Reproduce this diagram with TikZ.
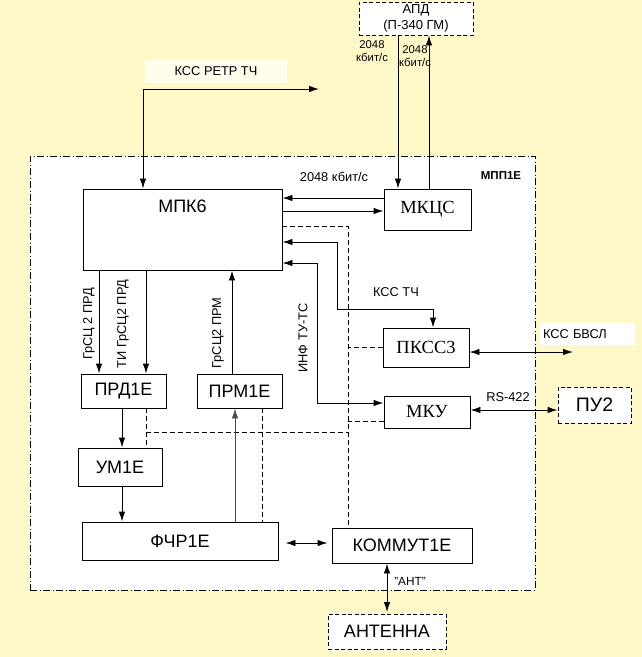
\documentclass[tikz,border=0pt]{standalone}
\usepackage{fontspec}
\setmainfont{Liberation Sans}
\newfontfamily\serifru{Liberation Serif}
\usetikzlibrary{arrows.meta}
\definecolor{bgyellow}{RGB}{255,249,202}
\definecolor{lblbox}{RGB}{255,253,236}
\tikzset{
  ln/.style={line width=0.95pt, draw=black},
  arr/.style={ln, -{Latex[length=10pt,width=6.5pt]}},
  arrtwo/.style={ln, {Latex[length=10pt,width=6.5pt]}-{Latex[length=10pt,width=6.5pt]}},
  dsh/.style={ln, dash pattern=on 5pt off 3pt},
  blk/.style={draw, line width=0.95pt, fill=white, inner sep=0pt, font=\fontsize{18}{20}\selectfont},
  sblk/.style={blk, font=\serifru\fontsize{18.5}{20}\selectfont},
  extblk/.style={draw, line width=0.95pt, fill=white, inner sep=0pt, dash pattern=on 4pt off 2.5pt},
  lbl/.style={inner sep=0pt, font=\fontsize{12.8}{14}\selectfont},
  slbl/.style={inner sep=0pt, font=\fontsize{11.3}{13}\selectfont, align=center},
}
\begin{document}
\begin{tikzpicture}[x=1pt,y=-1pt]
\useasboundingbox (0,0) rectangle (642,657);
\fill[bgyellow] (0,0) rectangle (642,657);
% outer module
\node[draw, line width=0.95pt, fill=white, dash pattern=on 7pt off 2.5pt on 1pt off 2.5pt,
      minimum width=505, minimum height=434, inner sep=0pt] (mpp) at (282.5,373) {};
\node[inner sep=0pt, font=\bfseries\fontsize{11.5}{13}\selectfont] (mppt) at (501,176) {МПП1Е};

% blocks
\node[blk, minimum width=199, minimum height=81] (mpk) at (182.5,229.5) {};
\node[inner sep=0pt, font=\fontsize{18}{20}\selectfont] (mpkt) at (182.5,206) {МПК6};
\node[sblk, minimum width=87, minimum height=41] (mkcs) at (427.5,209.5) {МКЦС};
\node[sblk, minimum width=86, minimum height=39] (pkss) at (426,347.5) {ПКСС3};
\node[sblk, minimum width=86, minimum height=32] (mku) at (427,412) {МКУ};
\node[blk, minimum width=85, minimum height=34] (prd) at (123.5,391) {ПРД1Е};
\node[blk, minimum width=85, minimum height=34] (prm) at (239.5,391) {ПРМ1Е};
\node[blk, minimum width=84, minimum height=38] (um) at (120,467) {УМ1Е};
\node[blk, minimum width=196, minimum height=38] (fchr) at (180,541) {ФЧР1Е};
\node[blk, minimum width=140, minimum height=35] (komm) at (402,545.5) {КОММУТ1Е};

% external blocks
\node[extblk, minimum width=114, minimum height=33, align=center,
      font=\fontsize{13}{16}\selectfont] (apd) at (416,18.5) {АПД\\(П-340 ГМ)};
\node[extblk, minimum width=73, minimum height=36, font=\fontsize{19.5}{21}\selectfont] (pu) at (594.5,405) {ПУ2};
\node[extblk, minimum width=118, minimum height=35, font=\fontsize{18}{20}\selectfont] (ant) at (387,631.5) {АНТЕННА};

% label boxes
\node[lbl, fill=lblbox, minimum width=142, minimum height=23] (kssr) at (216,71.5) {КСС РЕТР ТЧ};
\node[lbl, fill=white, minimum width=95, minimum height=22, text width=89pt, inner xsep=3pt, align=left] (kssb) at (587.5,334) {КСС БВСЛ};

% free-end coordinates
\coordinate (kssrc) at (143,89);
\coordinate (kssrend) at (319,89);
\coordinate (kt) at (337,309);
\coordinate (it) at (317,403);
\coordinate (kssbend) at (573,352);
\coordinate (dj) at (348,432);

% КСС РЕТР ТЧ
\draw[arr] (kssrc) -- (kssrend);
\draw[arr] (kssrc) -- (kssrc |- mpk.north);

% АПД <-> МКЦС
\draw[arr] ([xshift=-18pt]apd.south) -- ([xshift=-18pt]apd.south |- mkcs.north);
\draw[arr] ([xshift=13pt]apd.south |- mkcs.north) -- ([xshift=13pt]apd.south);
\node[slbl] (r1) at (372,51) {2048\\кбит/с};
\node[slbl] (r2) at (415,56.5) {2048\\кбит/с};

% МКЦС <-> МПК6
\draw[arr] ([yshift=11.5pt]mkcs.west) -- ([yshift=11.5pt]mkcs.west -| mpk.east);
\draw[arr] ([yshift=-1.5pt]mkcs.west -| mpk.east) -- ([yshift=-1.5pt]mkcs.west);
\node[lbl] (r3) at (334,177) {2048 кбит/с};

% КСС ТЧ
\draw[arrtwo] ([yshift=-12.5pt]mpk.east) -| (kt) -| ([xshift=7pt]pkss.north);
\node[lbl] (ksst) at (396,292) {КСС ТЧ};

% ИНФ ТУ-ТС
\draw[arrtwo] ([yshift=-33.5pt]mpk.east) -| (it) -- ([yshift=9pt]mku.west);
\node[lbl, rotate=90] (inf) at (303,338) {ИНФ ТУ-ТС};

% dashed links
\draw[dsh] ([yshift=3.5pt]mpk.east) -| ([xshift=-54pt]komm.north);
\draw[dsh] (pkss.west) -- (pkss.west -| dj);
\draw[dsh] ([yshift=-9pt]mku.west) -- ([yshift=-9pt]mku.west -| dj);
\draw[dsh] ([xshift=22.5pt]prd.south) -- ([xshift=22.5pt]prd.south |- um.north);
\draw[dsh] ([xshift=22.5pt]prd.south |- dj) -- (dj);
\draw[dsh] ([xshift=22.5pt]prm.south) -- ([xshift=22.5pt]prm.south |- fchr.north);

% МПК6 <-> ПРД1Е / ПРМ1Е
\draw[arr] ([xshift=-24.5pt]prd.north |- mpk.south) -- ([xshift=-24.5pt]prd.north);
\draw[arr] ([xshift=22.5pt]prd.north |- mpk.south) -- ([xshift=22.5pt]prd.north);
\draw[arr] ([xshift=-7.5pt]prm.north) -- ([xshift=-7.5pt]prm.north |- mpk.south);
\node[lbl, rotate=90] (l1) at (89,324) {ГрСЦ 2 ПРД};
\node[lbl, rotate=90] (l2) at (123,324) {ТИ ГрСЦ2 ПРД};
\node[lbl, rotate=90] (l3) at (218,333) {ГрСЦ2 ПРМ};

% chain
\draw[arr] ([xshift=-1.5pt]prd.south) -- ([xshift=-1.5pt]prd.south |- um.north);
\draw[arr] ([xshift=2pt]um.south) -- ([xshift=2pt]um.south |- fchr.north);
\draw[arr, draw=black!70, fill=black!70] ([xshift=-4.5pt]prm.south |- fchr.north) -- ([xshift=-4.5pt]prm.south);

% ФЧР1Е <-> КОММУТ1Е
\draw[arrtwo, shorten <=7pt, shorten >=4pt] ([yshift=-2pt]fchr.east) -- ([yshift=-2pt]fchr.east -| komm.west);

% КОММУТ1Е <-> АНТЕННА
\draw[arrtwo, shorten >=1.5pt] ([xshift=-15pt]komm.south) -- (ant.north);
\node[lbl, font=\fontsize{11.8}{13}\selectfont] (antl) at (410,581) {"АНТ"};

% ПКСС3 <-> КСС БВСЛ
\draw[arrtwo] ([yshift=-4.5pt]pkss.east) -- (kssbend);

% МКУ <-> ПУ2
\draw[arrtwo] ([yshift=2pt]mku.east) -- ([yshift=2pt]mku.east -| pu.west);
\node[lbl] (rs) at (508,397) {RS-422};
\end{tikzpicture}
\end{document}
